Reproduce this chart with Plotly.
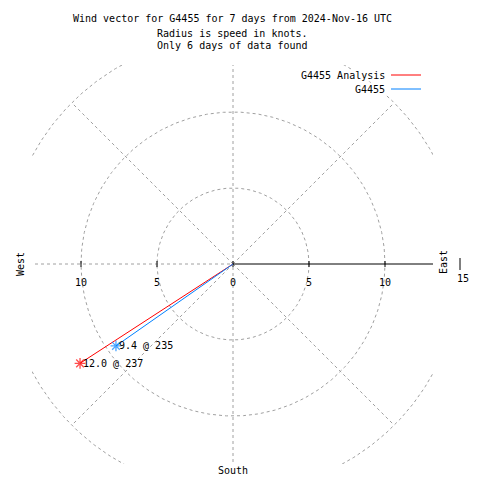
import numpy as np
import plotly.graph_objects as go

# ---- data ----
series_names = ["G4455 Analysis", "G4455"]
series_colors = ["#ff0000", "#0080ff"]
speeds_kt = [12.0, 9.4]
directions_deg = [237, 235]
point_labels = ["12.0 @ 237", "9.4 @ 235"]
ring_radii = [5, 10, 15]
spoke_angles = [45, 135, 225, 315]
tick_values = [-10, -5, 0, 5, 10]
tick_label_values = [-10, -5, 0, 5, 10, 15]
tick_labels = ["10", "5", "0", "5", "10", "15"]
title_lines = ["Wind vector for G4455 for 7 days from 2024-Nov-16 UTC",
               "Radius is speed in knots.",
               "Only 6 days of data found"]

# ---- geometry (pixels; page body has an 8px margin) ----
OFF = 8
W = H = 472
S = 15.2          # px per knot
CX, CY = 233 - OFF, 264 - OFF
L, R, T, B = 32 - OFF, 433 - OFF, 65 - OFF, 464 - OFF
xr = [(L - CX) / S, (R - CX) / S]
yr = [(CY - B) / S, (CY - T) / S]

def px(x):
    return (x - OFF - L) / (R - L)

def py(y):
    return (B - (y - OFF)) / (B - T)

def kx(v):
    """knots along east axis -> paper x"""
    return (v - xr[0]) / (xr[1] - xr[0])

FONT = dict(family="DejaVu Sans Mono", size=10, color="black")
GRID = dict(color="#a0a0a0", width=1, dash="3px,3px")

fig = go.Figure()

# rings
th = np.linspace(0, 2 * np.pi, 721)
for r in ring_radii:
    fig.add_trace(go.Scatter(x=r * np.cos(th), y=r * np.sin(th), mode="lines",
                             line=GRID, hoverinfo="skip", showlegend=False))
# spokes
for a in spoke_angles:
    rad = np.deg2rad(a)
    fig.add_trace(go.Scatter(x=[0, 15 * np.cos(rad)], y=[0, 15 * np.sin(rad)], mode="lines",
                             line=GRID, hoverinfo="skip", showlegend=False))
# vertical & left horizontal dashed
fig.add_trace(go.Scatter(x=[0, 0], y=[-15, 15], mode="lines", line=GRID,
                         hoverinfo="skip", showlegend=False))
fig.add_trace(go.Scatter(x=[-15, 0], y=[0, 0], mode="lines", line=GRID,
                         hoverinfo="skip", showlegend=False))
# solid east axis
fig.add_trace(go.Scatter(x=[0, 15], y=[0, 0], mode="lines",
                         line=dict(color="black", width=1), hoverinfo="skip", showlegend=False))
# ticks
tx, ty = [], []
for v in tick_values:
    tx += [v, v, None]
    ty += [-3 / S, 3 / S, None]
fig.add_trace(go.Scatter(x=tx, y=ty, mode="lines", line=dict(color="black", width=1),
                         hoverinfo="skip", showlegend=False))

# data vectors
for name, col, spd, d, lab in zip(series_names, series_colors, speeds_kt, directions_deg, point_labels):
    b = np.deg2rad(d)
    x, y = spd * np.sin(b), spd * np.cos(b)
    fig.add_trace(go.Scatter(x=[0, x], y=[0, y], mode="lines+markers", name=name,
                             line=dict(color=col, width=1),
                             marker=dict(symbol="asterisk-open", size=[0, 9],
                                         line=dict(color=col, width=1.3)),
                             showlegend=False))
    fig.add_annotation(x=x, y=y, text=lab, showarrow=False, xanchor="left", yanchor="middle",
                       xshift=1, font=FONT)

# tick labels (paper-referenced so the one past the box still shows)
for v, t in zip(tick_label_values, tick_labels):
    yy = 278 if v == 15 else 282
    xs = 2 if v == 15 else 0
    fig.add_annotation(xref="paper", yref="paper", x=kx(v), y=py(yy), text=t,
                       showarrow=False, xshift=xs, xanchor="center", yanchor="middle", font=FONT)

# tick at 15 (outside box)
fig.add_shape(type="line", xref="paper", yref="paper", x0=px(460), x1=px(460),
              y0=py(258), y1=py(270), line=dict(color="black", width=1))

# direction labels
fig.add_annotation(xref="paper", yref="paper", x=px(443), y=py(262), text="East",
                   textangle=-90, showarrow=False, xanchor="center", yanchor="middle", font=FONT)
fig.add_annotation(xref="paper", yref="paper", x=px(20), y=py(264), text="West",
                   textangle=-90, showarrow=False, xanchor="center", yanchor="middle", font=FONT)
fig.add_annotation(xref="paper", yref="paper", x=px(233), y=py(470), text="South",
                   showarrow=False, xanchor="center", yanchor="middle", font=FONT)

# title
for line, yy in zip(title_lines, [19, 33, 46]):
    fig.add_annotation(xref="paper", yref="paper", x=px(232), y=py(yy), text=line,
                       showarrow=False, xanchor="center", yanchor="middle", font=FONT)

# legend (gnuplot style)
for name, col, yy in zip(series_names, series_colors, [75, 89]):
    fig.add_annotation(xref="paper", yref="paper", x=px(386), y=py(yy), text=name,
                       xanchor="right", yanchor="middle", showarrow=False, font=FONT,
                       bgcolor="white", borderpad=0)
    fig.add_shape(type="line", xref="paper", yref="paper", x0=px(391), x1=px(421),
                  y0=py(yy), y1=py(yy), line=dict(color=col, width=1))

fig.update_xaxes(range=xr, visible=False, fixedrange=True)
fig.update_yaxes(range=yr, visible=False, fixedrange=True)
fig.update_layout(width=W, height=H, autosize=False,
                  margin=dict(l=L, r=W - R, t=T, b=H - B, pad=0),
                  plot_bgcolor="white", paper_bgcolor="white", showlegend=False)

fig.write_html("out.html")
